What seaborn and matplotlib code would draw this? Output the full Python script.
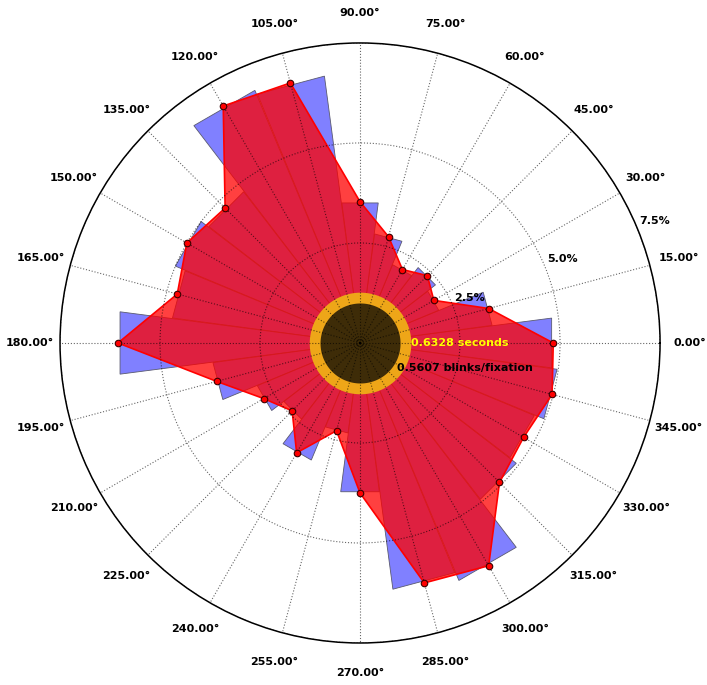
import numpy as np
import matplotlib
matplotlib.use("Agg")
import matplotlib.pyplot as plt
import seaborn as sns

# percentage of saccades per 15 degree direction bin
angles_deg = [0, 15, 30, 45, 60, 75, 90, 105, 120, 135, 150, 165,
              180, 195, 210, 225, 240, 255, 270, 285, 300, 315, 330, 345]
pct = [4.83, 3.33, 2.13, 2.38, 2.12, 2.75, 3.53, 6.73, 6.84, 4.77, 5.00, 4.73,
       6.05, 3.71, 2.78, 2.40, 3.17, 2.27, 3.75, 6.21, 6.43, 4.93, 4.72, 4.97]
r_ticks = [2.5, 5.0, 7.5]
r_labels = ["2.5%", "5.0%", "7.5%"]
duration_text = "0.6328 seconds"
blink_text = "0.5607 blinks/fixation"

sns.set_style("white")
plt.rcParams['font.family'] = ['DejaVu Sans']
plt.rcParams['font.weight'] = 'bold'
plt.rcParams['text.color'] = 'black'

theta = np.deg2rad(angles_deg)
half = np.deg2rad(7.4)

fig = plt.figure(figsize=(7.07, 6.85), dpi=100)
ax = fig.add_axes([0.0849, 0.0613, 0.8487, 0.876], projection='polar')

# histogram bars (straight topped wedges)
for t, v in zip(theta, pct):
    ax.fill([0, t - half, t + half], [0, v, v], facecolor=(0.5, 0.5, 1.0),
            edgecolor='#5a5a70', linewidth=0.6, zorder=1)

# closed polygon through bin centres
th_c = np.append(theta, theta[0])
pc_c = np.append(pct, pct[0])
ax.fill(th_c, pc_c, facecolor='red', alpha=0.75, edgecolor='none', zorder=1.1)
ax.plot(th_c, pc_c, color='red', lw=1.2, zorder=1.15)
sns.scatterplot(x=theta, y=pct, ax=ax, color='red', edgecolor='#3a0000',
                s=22, linewidth=0.8, zorder=3, legend=False)

# centre discs
full = np.linspace(0, 2 * np.pi, 200)
ax.fill_between(full, 0, 1.27, color='#EEA618', zorder=1.2, lw=0)
ax.fill_between(full, 0, 1.0, color='#3E2C08', zorder=1.25, lw=0)

ax.set_ylim(0, 7.5)
ax.set_xticks(theta)
ax.set_xticklabels([])
ax.set_yticks(r_ticks)
ax.set_yticklabels([])
ax.set_axisbelow(False)
ax.grid(True, color='black', linestyle=':', linewidth=0.8, alpha=0.6)
ax.spines['polar'].set_linewidth(1.1)
ax.spines['polar'].set_color('black')

for t, d in zip(theta, angles_deg):
    ax.text(t, 8.25, f"{d:.2f}°", ha='center', va='center', fontsize=8,
            fontweight='bold', clip_on=False)

for r, lab in zip(r_ticks, r_labels):
    ax.text(np.deg2rad(22.5), r + 0.47, lab, ha='center', va='center',
            fontsize=8, fontweight='bold', zorder=4)

ax.text(0.585, 0.5, duration_text, transform=ax.transAxes, color='#FFFF00',
        fontsize=8, fontweight='bold', ha='left', va='center', zorder=5)
ax.text(0.5617, 0.458, blink_text, transform=ax.transAxes, color='black',
        fontsize=8, fontweight='bold', ha='left', va='center', zorder=5)

plt.savefig("out.png", dpi=100)
